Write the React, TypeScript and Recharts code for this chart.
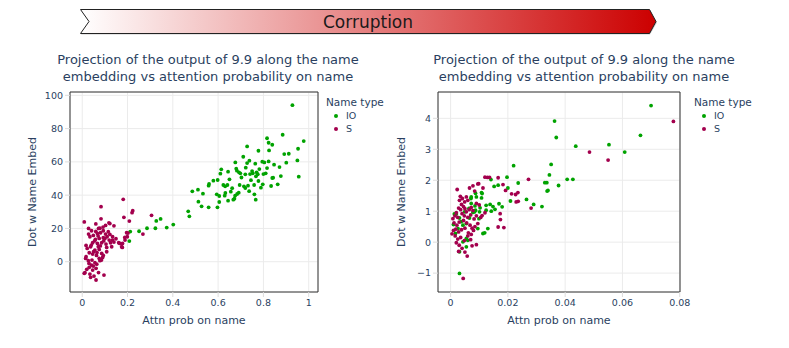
import React from "react";
import { ScatterChart, Scatter, XAxis, YAxis, CartesianGrid, ReferenceLine } from "recharts";

const IO_COLOR = "#00a300";
const S_COLOR = "#a3004d";
const TEXT = "#2a3f5f";
const FONT = "DejaVu Sans, Verdana, sans-serif";

const TITLE_LINES = [
  "Projection of the output of 9.9 along the name",
  "embedding vs attention probability on name",
];
const LEGEND_NAMES = ["IO", "S"];

// left panel: attn prob / dot with name embed
const leftTicksX = [0, 0.2, 0.4, 0.6, 0.8, 1];
const leftTicksY = [0, 20, 40, 60, 80, 100];
const leftIO: [number, number][] = [
  [0.928, 94.1], [0.885, 76.3], [0.978, 72.5], [0.816, 74.2], [0.823, 71.5], [0.839, 70.3],
  [0.728, 69.3], [0.778, 66.7], [0.825, 66.9], [0.953, 67.9], [0.892, 64.7], [0.912, 64.9],
  [0.711, 63.1], [0.738, 60.7], [0.728, 59.3], [0.676, 59.7], [0.764, 58.9], [0.795, 60.1],
  [0.804, 59.7], [0.823, 60.3], [0.901, 59.5], [0.95, 60.9], [0.847, 58.3], [0.871, 56.9],
  [0.816, 56.3], [0.68, 55.9], [0.683, 54.7], [0.692, 53.7], [0.698, 53.1], [0.614, 55.5],
  [0.61, 52.9], [0.644, 54.1], [0.72, 52.5], [0.741, 52.7], [0.75, 54.5], [0.753, 53.1],
  [0.77, 53.7], [0.767, 51.3], [0.775, 52.5], [0.782, 55.7], [0.8, 52.7], [0.81, 53.1],
  [0.839, 50.3], [0.843, 50.5], [0.956, 51.1], [0.579, 48.7], [0.598, 49.1], [0.56, 46.7],
  [0.558, 45.7], [0.623, 46.1], [0.631, 45.3], [0.641, 46.1], [0.695, 46.1], [0.714, 45.3],
  [0.72, 44.3], [0.732, 45.7], [0.759, 46.1], [0.778, 48.5], [0.797, 46.5], [0.789, 44.5],
  [0.863, 46.5], [0.834, 45.5], [0.486, 42.3], [0.511, 43.3], [0.533, 40.9], [0.594, 40.5],
  [0.605, 39.5], [0.632, 41.3], [0.629, 39.7], [0.656, 42.1], [0.675, 39.7], [0.684, 40.7],
  [0.691, 41.5], [0.672, 37.9], [0.667, 37.3], [0.644, 36.7], [0.605, 35.9], [0.76, 40.5],
  [0.766, 37.3], [0.513, 36.1], [0.527, 33.3], [0.558, 32.7], [0.597, 32.7], [0.468, 30.3],
  [0.473, 27.3], [0.402, 22.3], [0.373, 20.5], [0.346, 25.7], [0.327, 24.5], [0.323, 20.1],
  [0.286, 20.1], [0.251, 18.3], [0.212, 18.1], [0.208, 12.4], [0.65, 49.5], [0.703, 50.6],
  [0.745, 49.0], [0.722, 56.5], [0.662, 44.2], [0.737, 42.4], [0.877, 51.5],
];
const leftS: [number, number][] = [
  [0.181, 37.5], [0.083, 33.1], [0.223, 30.7], [0.22, 29.5], [0.306, 27.9], [0.184, 26.7],
  [0.083, 25.8], [0.208, 24.4], [0.009, 23.9], [0.06, 22.7], [0.103, 21.8], [0.122, 22.9],
  [0.078, 20.1], [0.268, 16.6], [0.028, 16.6], [0.034, 15.0], [0.049, 15.8], [0.067, 17.0],
  [0.081, 17.4], [0.093, 18.6], [0.103, 16.6], [0.11, 15.0], [0.122, 16.4], [0.134, 15.0],
  [0.134, 13.0], [0.119, 13.0], [0.093, 14.4], [0.075, 14.0], [0.058, 13.4], [0.046, 11.4],
  [0.067, 11.0], [0.086, 11.4], [0.105, 10.6], [0.125, 11.4], [0.14, 11.8], [0.161, 11.4],
  [0.174, 9.0], [0.178, 11.0], [0.189, 13.0], [0.199, 15.0], [0.196, 17.4], [0.017, 9.8],
  [0.022, 8.0], [0.037, 9.0], [0.056, 7.0], [0.075, 7.4], [0.086, 5.0], [0.09, 2.6],
  [0.075, 2.0], [0.063, 3.8], [0.046, 4.6], [0.031, 5.4], [0.017, 3.0], [0.027, 0.6],
  [0.043, 1.0], [0.056, -0.6], [0.041, -2.0], [0.031, -3.4], [0.046, -5.0], [0.061, -4.0],
  [0.012, -6.6], [0.034, -7.4], [0.052, -8.6], [0.061, -11.0], [0.096, -8.0], [0.037, -9.4],
  [0.02, -4.6], [0.049, -2.6], [0.078, 0.6], [0.093, 3.8], [0.108, 6.0], [0.071, 9.0],
  [0.108, 8.6], [0.13, 9.0], [0.149, 13.8], [0.028, 20.0], [0.041, 18.6], [0.14, 21.6],
  [0.118, 23.4], [0.072, 20.0], [0.009, -7.0], [0.166, 11.0], [0.177, 8.6], [0.188, 14.6],
  [0.202, 17.2], [0.05, 6.0], [0.065, 5.5], [0.08, 9.5], [0.095, 12.5], [0.07, 15.5],
  [0.055, 12.5], [0.04, 10.0], [0.085, 1.0], [0.064, -1.5], [0.072, -6.5], [0.03, -1.0],
  [0.015, 2.0], [0.1, 14.0], [0.115, 18.0], [0.06, 18.2], [0.092, 20.8],
];

// right panel
const rightTicksX = [0, 0.02, 0.04, 0.06, 0.08];
const rightTicksY = [-1, 0, 1, 2, 3, 4];
const rightIO: [number, number][] = [
  [0.07, 4.41], [0.0363, 3.91], [0.0369, 3.38], [0.0437, 3.1], [0.0553, 3.15], [0.0663, 3.45],
  [0.0608, 2.91], [0.022, 2.47], [0.0351, 2.51], [0.0345, 2.17], [0.0407, 2.03], [0.0427, 2.03],
  [0.0329, 1.92], [0.0336, 1.92], [0.0377, 1.83], [0.0337, 1.65], [0.034, 1.67], [0.0236, 1.91],
  [0.0197, 2.1], [0.02, 1.75], [0.0141, 2.02], [0.0152, 1.8], [0.0166, 1.84], [0.0209, 1.33],
  [0.0265, 1.38], [0.029, 1.22], [0.0319, 1.15], [0.018, 1.14], [0.0169, 1.24], [0.0148, 1.15],
  [0.0155, 1.06], [0.0142, 1.0], [0.0124, 1.19], [0.011, 1.57], [0.0108, 1.43], [0.013, 0.44],
  [0.0119, 0.3], [0.0103, 1.11], [0.0101, 0.98], [0.0099, 0.76], [0.0084, 0.98], [0.0031, -1.01],
  [0.0108, 1.6], [0.0087, 1.58], [0.0071, 1.41], [0.0087, 1.03], [0.0138, 1.22], [0.0013, 0.91],
  [0.002, 0.91], [0.0037, 0.66], [0.0043, 0.55], [0.0055, 0.6], [0.0066, 0.78], [0.0078, 0.96],
  [0.0072, 1.25], [0.0072, 1.46], [0.009, 1.46], [0.0085, 1.17], [0.0124, 1.03], [0.0095, 0.44],
  [0.0113, 0.28], [0.0055, 0.12], [0.006, 0.06], [0.0043, 0.01], [0.0055, -0.15], [0.0031, -0.31],
  [0.0017, 0.28], [0.0026, 0.44], [0.001, 0.57], [0.0031, 0.78], [0.0049, 0.98], [0.0064, 1.09],
];
const rightS: [number, number][] = [
  [0.0778, 3.9], [0.0485, 2.91], [0.055, 2.65], [0.0272, 2.03], [0.012, 2.1], [0.0129, 2.09],
  [0.0136, 2.09], [0.0166, 2.08], [0.0183, 1.86], [0.0192, 1.67], [0.0213, 1.56], [0.0227, 1.54],
  [0.0235, 1.6], [0.0236, 1.32], [0.0229, 1.3], [0.0281, 1.1], [0.0173, 0.92], [0.0174, 0.73],
  [0.0166, 0.49], [0.0186, 0.47], [0.0023, 1.7], [0.0044, -1.17], [0.0058, -0.45], [0.0095, 1.88],
  [0.0084, 1.65], [0.0098, 1.89], [0.0113, 1.75], [0.0078, 1.82], [0.0066, 1.75], [0.0034, 1.48],
  [0.0041, 1.41], [0.0031, 1.35], [0.0049, 1.3], [0.0055, 1.46], [0.006, 1.35], [0.0038, 1.22],
  [0.0045, 1.15], [0.0028, 1.1], [0.0035, 1.05], [0.005, 1.08], [0.0055, 0.98], [0.0065, 1.05],
  [0.0072, 1.12], [0.0078, 1.02], [0.002, 0.95], [0.0015, 0.85], [0.0025, 0.8], [0.004, 0.92],
  [0.0048, 0.85], [0.006, 0.8], [0.007, 0.88], [0.0082, 0.75], [0.009, 0.85], [0.0008, 0.76],
  [0.0012, 0.62], [0.0022, 0.55], [0.003, 0.65], [0.0045, 0.7], [0.0056, 0.62], [0.0068, 0.55],
  [0.0075, 0.45], [0.0085, 0.5], [0.0095, 0.6], [0.0005, 0.27], [0.001, 0.38], [0.0018, 0.42],
  [0.0028, 0.33], [0.0038, 0.4], [0.005, 0.45], [0.0062, 0.3], [0.0072, 0.25], [0.008, 0.38],
  [0.0016, 0.2], [0.0025, 0.1], [0.0035, 0.15], [0.0048, 0.05], [0.006, 0.2], [0.007, 0.08],
  [0.002, -0.02], [0.003, -0.1], [0.004, -0.2], [0.0028, -0.3], [0.005, -0.32], [0.0075, -0.12],
  [0.009, -0.08], [0.0105, 0.8], [0.011, 0.86], [0.01, 1.2], [0.012, 0.95], [0.009, 1.25],
];

const toPoints = (arr: [number, number][]) => arr.map(([x, y]) => ({ x, y }));
const fmt = (v: number) => String(v).replace("-", "\u2212");

const dot = (color: string) => (props: any) =>
  <circle cx={props.cx} cy={props.cy} r={1.9} fill={color} />;

function Panel({ left, width, margin, yWidth, domX, domY, ticksX, ticksY, io, s }: any) {
  const tick = { fill: TEXT, fontSize: 9.5, fontFamily: FONT };
  return (
    <div style={{ position: "absolute", left, top: 0 }}>
      <ScatterChart width={width} height={348} margin={margin}>
        <CartesianGrid stroke="#ebebeb" />
        <XAxis type="number" dataKey="x" domain={domX} ticks={ticksX} allowDataOverflow
          height={40} tick={tick} tickFormatter={fmt} tickSize={5} tickMargin={2}
          tickLine={{ stroke: "#dddddd" }} axisLine={{ stroke: "#333" }} />
        <YAxis type="number" dataKey="y" domain={domY} ticks={ticksY} allowDataOverflow
          width={yWidth} tick={tick} tickFormatter={fmt} tickSize={5} tickMargin={2}
          tickLine={{ stroke: "#dddddd" }} axisLine={{ stroke: "#333" }} />
        <ReferenceLine y={domY[1]} stroke="#333" />
        <ReferenceLine x={domX[1]} stroke="#333" />
        <Scatter name="IO" data={toPoints(io)} shape={dot(IO_COLOR)} isAnimationActive={false} />
        <Scatter name="S" data={toPoints(s)} shape={dot(S_COLOR)} isAnimationActive={false} />
      </ScatterChart>
    </div>
  );
}

function Titles({ center, plotCenter, yTitleX, legendX }: any) {
  return (
    <>
      <div style={{ position: "absolute", left: center - 200, width: 400, top: 51, textAlign: "center",
        fontSize: 13, lineHeight: "17px", color: TEXT }}>
        {TITLE_LINES.map((l) => <div key={l}>{l}</div>)}
      </div>
      <div style={{ position: "absolute", left: plotCenter - 100, width: 200, top: 313, textAlign: "center",
        fontSize: 11, lineHeight: "16px", color: TEXT }}>
        Attn prob on name
      </div>
      <div style={{ position: "absolute", left: yTitleX - 100, width: 200, top: 184, textAlign: "center",
        fontSize: 11, lineHeight: "16px", color: TEXT, transform: "rotate(-90deg)" }}>
        Dot w Name Embed
      </div>
      <div style={{ position: "absolute", left: legendX, top: 96, fontSize: 10.5, color: TEXT, lineHeight: "13px" }}>
        <div>Name type</div>
        {LEGEND_NAMES.map((n, i) => (
          <div key={n} style={{ display: "flex", alignItems: "center", fontSize: 9.5 }}>
            <span style={{ display: "inline-block", width: 4, height: 4, borderRadius: 2, marginLeft: 8, marginRight: 8,
              background: i === 0 ? IO_COLOR : S_COLOR }} />
            {n}
          </div>
        ))}
      </div>
    </>
  );
}

export default function App() {
  return (
    <div style={{ position: "absolute", left: 0, top: 0, width: 789, height: 348, background: "#fff",
      fontFamily: FONT, overflow: "hidden" }}>
      <svg width={789} height={40} style={{ position: "absolute", left: 0, top: 0 }}>
        <defs>
          <linearGradient id="corr" x1="0" x2="1" y1="0" y2="0">
            <stop offset="0%" stopColor="#ffffff" />
            <stop offset="100%" stopColor="#cc0000" />
          </linearGradient>
        </defs>
        <polygon points="81,34.5 650,34.5 657,22.5 650,10.5 81,10.5 90,22.5" fill="#999" opacity={0.5} />
        <polygon points="80.5,9.5 649.5,9.5 656,21.5 649.5,33.5 80.5,33.5 89,21.5"
          fill="url(#corr)" stroke="#222" strokeWidth={1} />
        <text x={368} y={22} textAnchor="middle" dominantBaseline="central" fontSize={17} fill="#1a1a1a"
          fontFamily={FONT}>Corruption</text>
      </svg>
      <Panel left={0} width={400} margin={{ top: 92, right: 82, bottom: 16, left: 30 }} yWidth={40}
        domX={[-0.054, 1.041]} domY={[-18.2, 102]} ticksX={leftTicksX} ticksY={leftTicksY} io={leftIO} s={leftS} />
      <Panel left={400} width={389} margin={{ top: 92, right: 109, bottom: 16, left: 10 }} yWidth={28}
        domX={[-0.0044, 0.0801]} domY={[-1.61, 4.85]} ticksX={rightTicksX} ticksY={rightTicksY} io={rightIO} s={rightS} />
      <Titles center={208} plotCenter={194} yTitleX={33} legendX={326} />
      <Titles center={584} plotCenter={559} yTitleX={402} legendX={694} />
    </div>
  );
}
